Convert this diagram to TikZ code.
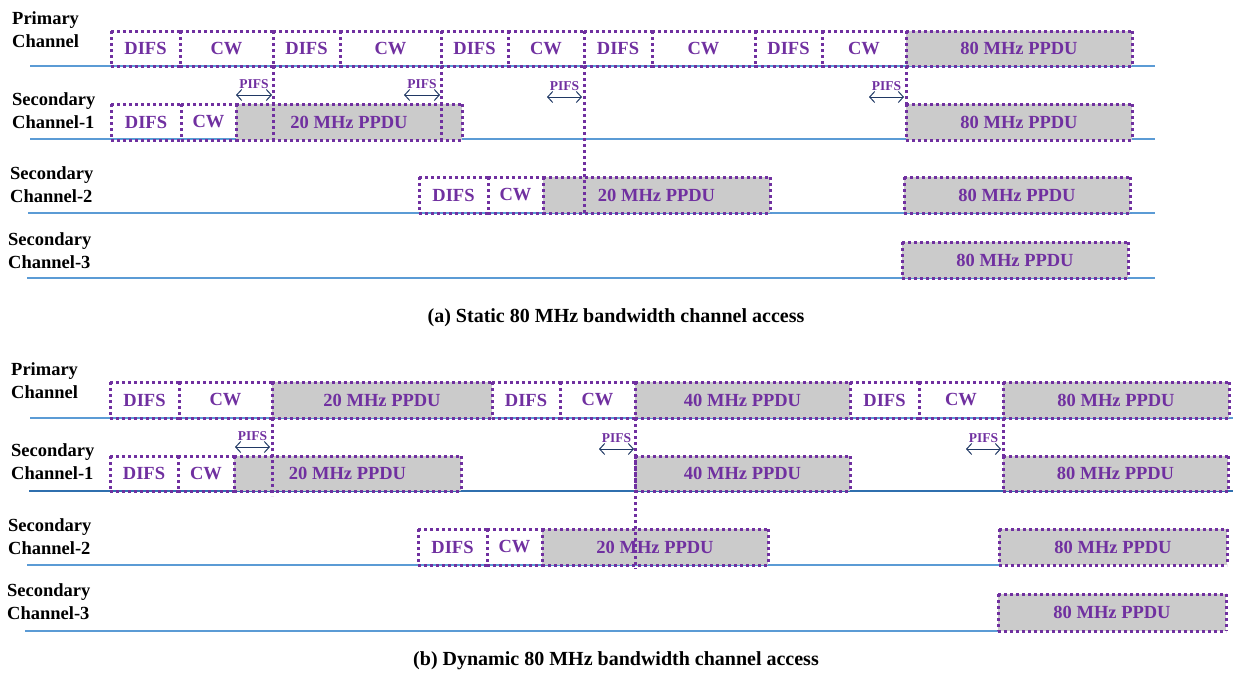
\documentclass[tikz,border=0pt]{standalone}
\usepackage{fontspec}
\setmainfont{Liberation Serif}
\usetikzlibrary{arrows.meta}
\definecolor{pur}{HTML}{7030A0}
\definecolor{grayf}{HTML}{CBCBCB}
\definecolor{navy}{HTML}{203864}
\definecolor{lblue}{HTML}{5B9BD5}
\definecolor{dblue}{HTML}{2F6FAE}
\tikzset{
 dotb/.style={draw=pur, line width=3pt, dash pattern=on 3pt off 3pt},
 blk/.style={rectangle, inner sep=0pt, outer sep=0pt, text=pur, font=\fontsize{18.5}{22}\selectfont\bfseries},
 ppdu/.style={blk, fill=grayf},
 chlab/.style={anchor=west, align=left, inner sep=0pt, font=\fontsize{18.5}{23}\selectfont\bfseries},
 chline/.style={draw=lblue, line width=1.5pt},
 chlined/.style={draw=dblue, line width=1.5pt},
 pifs/.style={draw=navy, line width=1pt, {Straight Barb[length=5pt,width=11pt]}-{Straight Barb[length=5pt,width=11pt]}},
 pifslab/.style={text=pur, font=\fontsize{13.5}{13.5}\selectfont\bfseries, inner sep=0pt, above=6pt},
 vdot/.style={dotb},
 capt/.style={font=\fontsize{20}{20}\selectfont\bfseries, inner sep=0pt}
}
\newcommand\blk[7]{\node[#6, minimum width={(#3-#2)*1pt}, minimum height={(#5-#4)*1pt}] (#1) at ({(#2+#3)/2},{(#4+#5)/2}) {#7};
\draw[dotb] (#1.north west) -- (#1.south west) (#1.north east) -- (#1.south east) (#1.north west) -- (#1.north east) (#1.south west) -- (#1.south east);}
\begin{document}
\begin{tikzpicture}[x=1pt,y=-1pt]
\useasboundingbox (0,0) rectangle (1233,672);
% ---------------- (a) ----------------
\node[chlab] (la0) at (12,30) {Primary\\Channel};
\node[chlab] (la1) at (12,111) {Secondary\\Channel-1};
\node[chlab] (la2) at (10,185) {Secondary\\Channel-2};
\node[chlab] (la3) at (8,251) {Secondary\\Channel-3};
\coordinate (a0L) at (30,66); \coordinate (a0R) at (1155,66);
\coordinate (a1L) at (30,139); \coordinate (a1R) at (1155,139);
\coordinate (a2L) at (28,213); \coordinate (a2R) at (1155,213);
\coordinate (a3L) at (27,278); \coordinate (a3R) at (1155,278);
\draw[chline] (a0L) -- (a0R);
\draw[chline] (a1L) -- (a1R);
\draw[chline] (a2L) -- (a2R);
\draw[chline] (a3L) -- (a3R);
% primary
\blk{a0d}{111}{180}{31}{66}{blk}{DIFS}
\blk{a0c}{180}{273}{31}{66}{blk}{CW}
\blk{a1d}{273}{340}{31}{66}{blk}{DIFS}
\blk{a1c}{340}{441}{31}{66}{blk}{CW}
\blk{a2d}{441}{508}{31}{66}{blk}{DIFS}
\blk{a2c}{508}{584}{31}{66}{blk}{CW}
\blk{a3d}{584}{652}{31}{66}{blk}{DIFS}
\blk{a3c}{652}{755}{31}{66}{blk}{CW}
\blk{a4d}{755}{822}{31}{66}{blk}{DIFS}
\blk{a4c}{822}{906}{31}{66}{blk}{CW}
\blk{a0p}{906}{1132}{31}{66}{ppdu}{80 MHz PPDU}
% secondary 1
\blk{as1d}{111}{181}{104}{140}{blk}{DIFS}
\blk{as1c}{181}{236}{104}{140}{blk}{CW}
\blk{as1p}{236}{462}{104}{140}{ppdu}{20 MHz PPDU}
\blk{as1q}{906}{1132}{104}{140}{ppdu}{80 MHz PPDU}
% secondary 2
\blk{as2d}{419}{488}{177}{213}{blk}{DIFS}
\blk{as2c}{488}{543}{177}{213}{blk}{CW}
\blk{as2p}{543}{770}{177}{213}{ppdu}{20 MHz PPDU}
\blk{as2q}{904}{1130}{177}{213}{ppdu}{80 MHz PPDU}
% secondary 3
\blk{as3q}{902}{1128}{242}{278}{ppdu}{80 MHz PPDU}
% vertical dotted lines
\coordinate (av1) at (273,143);
\coordinate (av2) at (441,143);
\draw[vdot] (a0c.south east) -- (av1);
\draw[vdot] (a1c.south east) -- (av2);
\draw[vdot] (a2c.south east) -- (as2p.south -| a2c.south east);
\draw[vdot] (a4c.south east) -- (as1q.north west);
% PIFS
\coordinate (ap1a) at (236,95); \coordinate (ap1b) at (272,95);
\coordinate (ap2a) at (404,95); \coordinate (ap2b) at (440,95);
\coordinate (ap3a) at (547,97); \coordinate (ap3b) at (582,97);
\coordinate (ap4a) at (869,97); \coordinate (ap4b) at (904,97);
\draw[pifs] (ap1a) -- (ap1b) node[midway, pifslab] (apl1) {PIFS};
\draw[pifs] (ap2a) -- (ap2b) node[midway, pifslab] (apl2) {PIFS};
\draw[pifs] (ap3a) -- (ap3b) node[midway, pifslab] (apl3) {PIFS};
\draw[pifs] (ap4a) -- (ap4b) node[midway, pifslab] (apl4) {PIFS};
\node[capt] (capa) at (616,318) {(a) Static 80 MHz bandwidth channel access};
% ---------------- (b) ----------------
\node[chlab] (lb0) at (11,381) {Primary\\Channel};
\node[chlab] (lb1) at (11,462) {Secondary\\Channel-1};
\node[chlab] (lb2) at (8,537) {Secondary\\Channel-2};
\node[chlab] (lb3) at (7,602) {Secondary\\Channel-3};
\coordinate (b0L) at (30,418); \coordinate (b0R) at (1233,418);
\coordinate (b1L) at (29,491); \coordinate (b1R) at (1233,491);
\coordinate (b2L) at (27,565); \coordinate (b2R) at (999,565);
\coordinate (b3L) at (25,631); \coordinate (b3R) at (998,631);
\draw[chline] (b0L) -- (b0R);
\draw[chlined] (b1L) -- (b1R);
\draw[chline] (b2L) -- (b2R);
\draw[chline] (b3L) -- (b3R);
% primary
\blk{b0d}{110}{179}{382}{418}{blk}{DIFS}
\blk{b0c}{179}{272}{382}{418}{blk}{CW}
\blk{b0p}{272}{492}{382}{418}{ppdu}{20 MHz PPDU}
\blk{b1d}{492}{560}{382}{418}{blk}{DIFS}
\blk{b1c}{560}{635}{382}{418}{blk}{CW}
\blk{b1p}{635}{850}{382}{418}{ppdu}{40 MHz PPDU}
\blk{b2d}{850}{919}{382}{418}{blk}{DIFS}
\blk{b2c}{919}{1003}{382}{418}{blk}{CW}
\blk{b2p}{1003}{1229}{382}{418}{ppdu}{80 MHz PPDU}
% secondary 1
\blk{bs1d}{110}{178}{456}{491}{blk}{DIFS}
\blk{bs1c}{178}{234}{456}{491}{blk}{CW}
\blk{bs1p}{234}{461}{456}{491}{ppdu}{20 MHz PPDU}
\blk{bs1q}{635}{850}{456}{491}{ppdu}{40 MHz PPDU}
\blk{bs1r}{1003}{1228}{456}{491}{ppdu}{80 MHz PPDU}
% secondary 2
\blk{bs2d}{418}{487}{529}{565}{blk}{DIFS}
\blk{bs2c}{487}{542}{529}{565}{blk}{CW}
\blk{bs2p}{542}{768}{529}{565}{ppdu}{20 MHz PPDU}
\blk{bs2q}{999}{1227}{529}{565}{ppdu}{80 MHz PPDU}
% secondary 3
\blk{bs3q}{998}{1226}{594}{631}{ppdu}{80 MHz PPDU}
% vertical dotted lines
\coordinate (bv1) at (272,496);
\coordinate (bv2) at (635,569);
\draw[vdot] (b0c.south east) -- (bv1);
\draw[vdot] (b1c.south east) -- (bv2);
\draw[vdot] (b2c.south east) -- (bs1r.north west);
% PIFS
\coordinate (bp1a) at (235,447); \coordinate (bp1b) at (270,447);
\coordinate (bp2a) at (599,449); \coordinate (bp2b) at (634,449);
\coordinate (bp3a) at (966,449); \coordinate (bp3b) at (1001,449);
\draw[pifs] (bp1a) -- (bp1b) node[midway, pifslab] (bpl1) {PIFS};
\draw[pifs] (bp2a) -- (bp2b) node[midway, pifslab] (bpl2) {PIFS};
\draw[pifs] (bp3a) -- (bp3b) node[midway, pifslab] (bpl3) {PIFS};
\node[capt] (capb) at (616,661) {(b) Dynamic 80 MHz bandwidth channel access};
\end{tikzpicture}
\end{document}
